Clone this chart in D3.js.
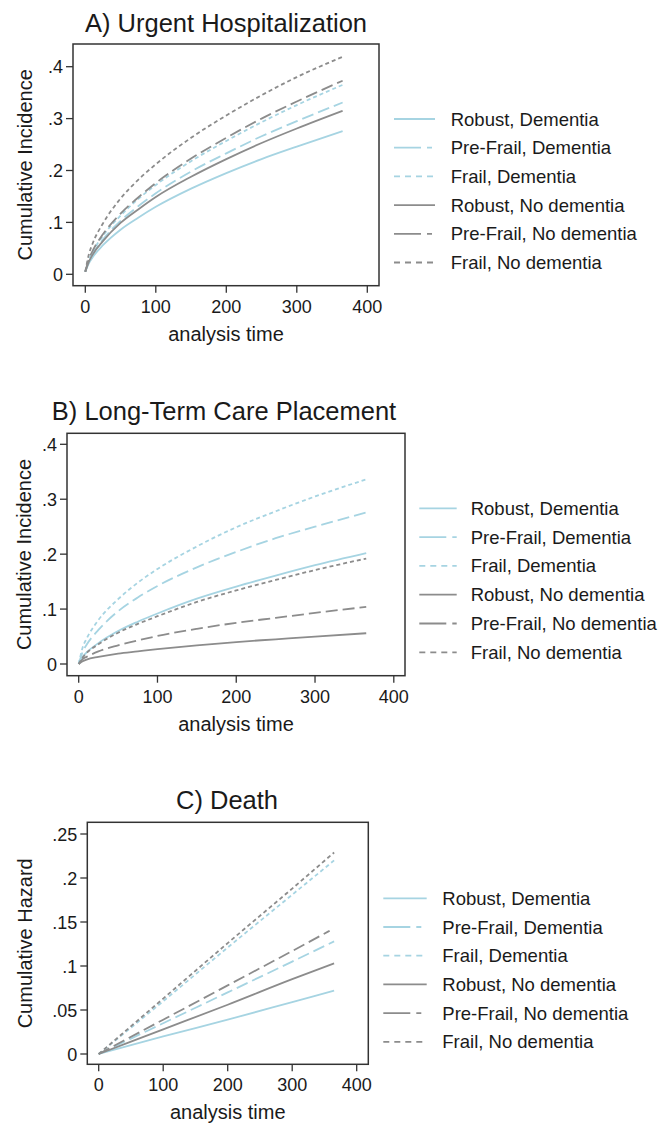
<!DOCTYPE html>
<html>
<head>
<meta charset="utf-8">
<script src="https://cdn.jsdelivr.net/npm/d3@7"></script>
<style>
  body { margin: 0; background: #fff; }
  text { font-family: 'Liberation Sans', Arial, sans-serif; fill: #1a1a1a; }
</style>
</head>
<body>
<script>
// legend groups (same order for every panel)
const groups = ['Robust, Dementia', 'Pre-Frail, Dementia', 'Frail, Dementia',
  'Robust, No dementia', 'Pre-Frail, No dementia', 'Frail, No dementia'];

const xTicks = [0, 100, 200, 300, 400];

// A) urgent hospitalization, cumulative incidence
const tHosp = [0, 5, 10, 25, 50, 75, 100, 150, 200, 250, 300, 365];
const hospRD  = [.005, .021, .032, .056, .086, .109, .130, .165, .195, .222, .246, .276];
const hospPFD = [.005, .025, .038, .067, .103, .131, .156, .198, .233, .266, .295, .331];
const hospFD  = [.005, .027, .042, .074, .113, .145, .172, .218, .257, .293, .326, .365];
const hospRN  = [.005, .024, .037, .064, .099, .125, .149, .188, .222, .253, .281, .315];
const hospPFN = [.005, .029, .044, .077, .117, .148, .176, .223, .263, .300, .333, .373];
const hospFN  = [.005, .038, .058, .098, .146, .182, .212, .263, .306, .345, .380, .419];
const hospTicks = [0, .1, .2, .3, .4];

// B) long-term care placement, cumulative incidence
const tLtc = [0, 5, 10, 25, 50, 75, 100, 150, 200, 250, 300, 365];
const ltcRD  = [0, .013, .021, .038, .060, .077, .092, .119, .141, .161, .180, .202];
const ltcPFD = [0, .022, .035, .062, .096, .121, .142, .176, .204, .229, .250, .276];
const ltcFD  = [0, .030, .046, .080, .118, .148, .173, .214, .249, .278, .305, .336];
const ltcRN  = [0, .005, .008, .013, .019, .023, .027, .034, .040, .045, .050, .056];
const ltcPFN = [0, .009, .013, .023, .034, .043, .051, .064, .075, .084, .093, .104];
const ltcFN  = [0, .012, .020, .036, .057, .073, .087, .113, .134, .153, .171, .192];
const ltcTicks = [0, .1, .2, .3, .4];

// C) death, cumulative hazard
const tDeath = [0, 100, 200, 300, 365];
const tDeathPFN = [0, 100, 200, 300, 358];
const deathRD  = [0, .020, .039, .059, .072];
const deathPFD = [0, .035, .070, .105, .128];
const deathFD  = [0, .060, .121, .181, .220];
const deathRN  = [0, .028, .056, .085, .103];
const deathPFN = [0, .039, .078, .117, .140];
const deathFN  = [0, .063, .126, .188, .229];
const deathTicks = [0, .05, .1, .15, .2, .25];

const blue = '#a6d4e2', gray = '#8c8c8c';
const colors = [blue, blue, blue, gray, gray, gray];
const dashes = [null, '12,5', '4,3', null, '12,5', '4,3'];
const legDashes = [null, '27,6,5,99', '6,5', null, '27,6,5,99', '6,5'];

const svg = d3.select('body').append('svg')
  .attr('width', 662)
  .attr('height', 1125);

const fmt = v => v === 0 ? '0' : String(+v.toFixed(2)).replace(/^0/, '');

function drawPanel(p) {
  const x = d3.scaleLinear().domain([0, 400]).range([p.x0, p.x400]);
  const y = d3.scaleLinear().domain([0, p.yTop]).range([p.y0, p.yTopPx]);
  const g = svg.append('g');

  // frame
  g.append('rect')
    .attr('x', p.frame[0]).attr('y', p.frame[2])
    .attr('width', p.frame[1] - p.frame[0]).attr('height', p.frame[3] - p.frame[2])
    .attr('fill', 'none').attr('stroke', '#333').attr('stroke-width', 1.5);

  // y ticks
  p.yTicks.forEach(v => {
    g.append('line')
      .attr('x1', p.frame[0] - 7).attr('x2', p.frame[0])
      .attr('y1', y(v)).attr('y2', y(v))
      .attr('stroke', '#333').attr('stroke-width', 1.3);
    g.append('text')
      .attr('x', p.frame[0] - 10).attr('y', y(v) + 6.5)
      .attr('text-anchor', 'end').attr('font-size', 18)
      .text(fmt(v));
  });

  // x ticks
  xTicks.forEach(v => {
    g.append('line')
      .attr('x1', x(v)).attr('x2', x(v))
      .attr('y1', p.frame[3]).attr('y2', p.frame[3] + 7)
      .attr('stroke', '#333').attr('stroke-width', 1.3);
    g.append('text')
      .attr('x', x(v)).attr('y', p.frame[3] + 27)
      .attr('text-anchor', 'middle').attr('font-size', 18)
      .text(v);
  });

  // titles
  g.append('text')
    .attr('x', p.titleX).attr('y', p.titleY)
    .attr('text-anchor', 'middle').attr('font-size', 25.5)
    .text(p.title);
  g.append('text')
    .attr('x', (p.frame[0] + p.frame[1]) / 2).attr('y', p.frame[3] + 55)
    .attr('text-anchor', 'middle').attr('font-size', 20)
    .text('analysis time');
  g.append('text')
    .attr('transform', `translate(${p.yLabelX},${(p.frame[2] + p.frame[3]) / 2}) rotate(-90)`)
    .attr('text-anchor', 'middle').attr('font-size', 20)
    .text(p.yLabel);

  // curves
  const line = d3.line()
    .x(d => x(d[0]))
    .y(d => y(d[1]))
    .curve(d3.curveMonotoneX);

  p.series.forEach((s, i) => {
    const pts = s.t.map((t, k) => [t, s.v[k]]);
    g.append('path')
      .datum(pts)
      .attr('d', line)
      .attr('fill', 'none')
      .attr('stroke', colors[i])
      .attr('stroke-width', 1.8)
      .attr('stroke-dasharray', dashes[i]);
  });

  // legend
  groups.forEach((name, i) => {
    const ly = p.leg.y + i * p.leg.dy;
    g.append('line')
      .attr('x1', p.leg.x1).attr('x2', p.leg.x2)
      .attr('y1', ly).attr('y2', ly)
      .attr('stroke', colors[i]).attr('stroke-width', 1.8)
      .attr('stroke-dasharray', legDashes[i]);
    g.append('text')
      .attr('x', p.leg.tx).attr('y', ly + 6.5)
      .attr('font-size', 18.5)
      .text(name);
  });
}

drawPanel({
  title: 'A) Urgent Hospitalization', titleX: 226, titleY: 32,
  frame: [73, 379, 44, 285.7],
  x0: 85.3, x400: 367.3, y0: 274.3, yTop: .4, yTopPx: 66.7,
  yTicks: hospTicks, yLabel: 'Cumulative Incidence', yLabelX: 32,
  series: [
    { t: tHosp, v: hospRD }, { t: tHosp, v: hospPFD }, { t: tHosp, v: hospFD },
    { t: tHosp, v: hospRN }, { t: tHosp, v: hospPFN }, { t: tHosp, v: hospFN }
  ],
  leg: { x1: 394, x2: 435, tx: 450.7, y: 119, dy: 28.7 }
});

drawPanel({
  title: 'B) Long-Term Care Placement', titleX: 224, titleY: 420,
  frame: [67, 405, 433.3, 675.7],
  x0: 78.7, x400: 393.8, y0: 664, yTop: .4, yTopPx: 444.3,
  yTicks: ltcTicks, yLabel: 'Cumulative Incidence', yLabelX: 31,
  series: [
    { t: tLtc, v: ltcRD }, { t: tLtc, v: ltcPFD }, { t: tLtc, v: ltcFD },
    { t: tLtc, v: ltcRN }, { t: tLtc, v: ltcPFN }, { t: tLtc, v: ltcFN }
  ],
  leg: { x1: 419.3, x2: 456.7, tx: 470.7, y: 508.3, dy: 28.8 }
});

drawPanel({
  title: 'C) Death', titleX: 227, titleY: 809,
  frame: [87.3, 368.3, 822.3, 1064.3],
  x0: 98.7, x400: 356.7, y0: 1054, yTop: .25, yTopPx: 834,
  yTicks: deathTicks, yLabel: 'Cumulative Hazard', yLabelX: 32,
  series: [
    { t: tDeath, v: deathRD }, { t: tDeath, v: deathPFD }, { t: tDeath, v: deathFD },
    { t: tDeath, v: deathRN }, { t: tDeathPFN, v: deathPFN }, { t: tDeath, v: deathFN }
  ],
  leg: { x1: 383.3, x2: 426.7, tx: 442.3, y: 898.3, dy: 28.7 }
});
</script>
</body>
</html>
